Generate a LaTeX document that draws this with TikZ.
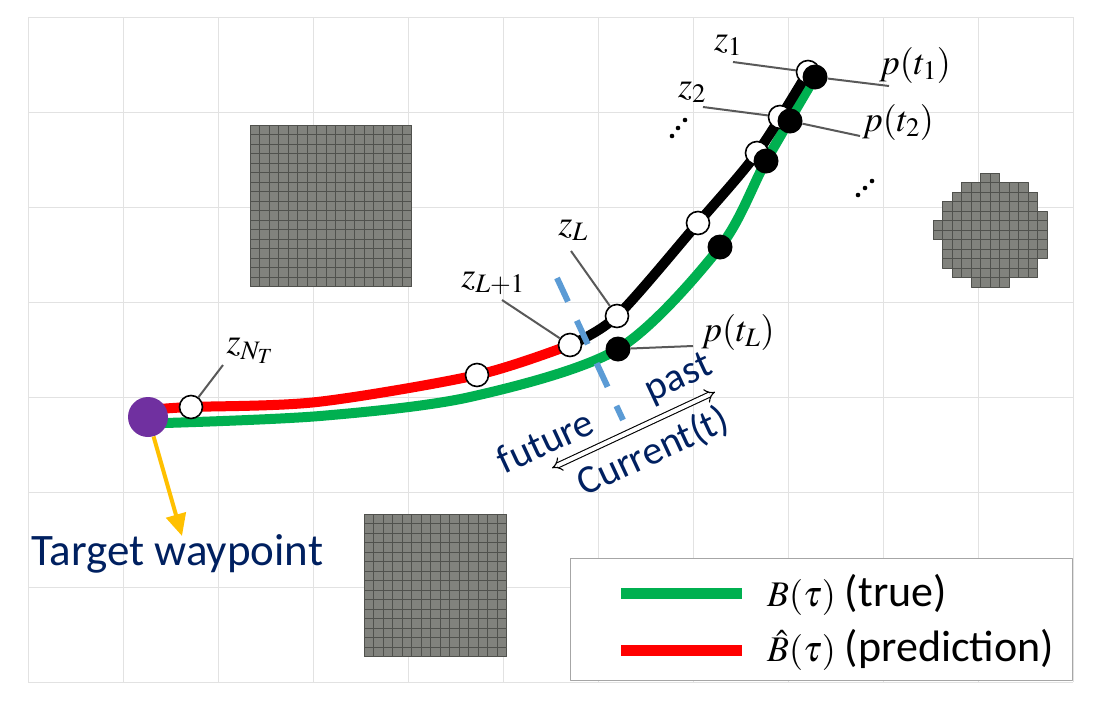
\documentclass[tikz,border=0pt]{standalone}
\usepackage{mathptmx}
\usepackage{fontspec}
\setmainfont{Liberation Serif}
\newfontfamily\calib{Carlito}
\usepackage{tikz}
\usetikzlibrary{arrows.meta}
\definecolor{tgreen}{HTML}{00B050}
\definecolor{tred}{HTML}{FF0000}
\definecolor{tpurple}{HTML}{7030A0}
\definecolor{torange}{HTML}{FFC000}
\definecolor{tnavy}{HTML}{002060}
\definecolor{tblue}{HTML}{5B9BD5}
\definecolor{gridgray}{HTML}{E2E2E2}
\definecolor{obsgray}{HTML}{81827D}
\definecolor{obsline}{HTML}{50514D}
\definecolor{leadgray}{HTML}{595959}

\begin{document}
\begin{tikzpicture}[x=1pt, y=-1pt, line join=round,
    gridline/.style={draw=gridgray, line width=1pt},
    cell/.style={fill=obsgray, draw=obsline, line width=0.5pt},
    wcirc/.style={circle, draw=black, line width=1.6pt, fill=white, minimum size=23pt, inner sep=0pt},
    bdot/.style={circle, fill=black, minimum size=25pt, inner sep=0pt},
    leader/.style={draw=leadgray, line width=2pt},
    mlabel/.style={inner sep=0pt, font=\fontsize{36}{42}\selectfont},
    navytext/.style={text=tnavy, font=\calib\fontsize{40}{48}\selectfont}]
    \useasboundingbox (0,0) rectangle (1094,702); % 画像サイズ

    % 背景のグリッド
    \foreach \i in {0,...,11} \draw[gridline] (28+\i*95,17) -- (28+\i*95,682);
    \foreach \j in {0,...,7} \draw[gridline] (28,17+\j*95) -- (1073,17+\j*95);

    % 障害物
    \foreach \i in {0,...,16} \foreach \j in {0,...,16}
        \filldraw[cell] (250+\i*9.5,125+\j*9.5) rectangle ++(9.5,9.5);
    \foreach \i in {0,...,14} \foreach \j in {0,...,14}
        \filldraw[cell] (364+\i*9.5,514+\j*9.5) rectangle ++(9.5,9.5);
    \foreach \r/\a/\b in {0/5/6, 1/3/9, 2/2/10, 3/1/10, 4/1/11, 5/0/11, 6/0/11, 7/1/11, 8/1/11, 9/1/10, 10/2/10, 11/4/7}
        \foreach \c in {\a,...,\b}
            \filldraw[cell] (933+\c*9.5,173+\r*9.5) rectangle ++(9.5,9.5); % 円形の障害物

    % 軌道
    \draw[tgreen, line width=10pt] plot[smooth] coordinates {(165,423) (320,416) (470,397) (618,349) (720,247) (766,161) (815,77)}; % 真の軌道
    \draw[tred, line width=10pt] plot[smooth] coordinates {(160,409) (191,407) (317,402) (477,375) (570,345)}; % 予測
    \draw[black, line width=10pt] plot[smooth] coordinates {(570,345) (617,316) (698,223) (757,153) (808,72)};
    \draw[tblue, line width=6pt, dash pattern=on 26pt off 21pt] (557,278) -- (623,420); % 現在時刻

    % 点
    \node[circle, fill=tpurple, minimum size=40pt, inner sep=0pt] (tw) at (148,417) {};
    \node[wcirc] (zNT) at (191,407) {};
    \node[wcirc] (zm) at (477,375) {};
    \node[wcirc] (zL1) at (570,345) {};
    \node[wcirc] (zL) at (617,316) {};
    \node[wcirc] (zk) at (698,223) {};
    \node[wcirc] (z3) at (757,153) {};
    \node[wcirc] (z2) at (780,117) {};
    \node[wcirc] (z1) at (808,72) {};
    \node[bdot] (pt1) at (815,77) {};
    \node[bdot] (pt2) at (790,121) {};
    \node[bdot] (pt3) at (766,161) {};
    \node[bdot] (ptk) at (720,247) {};
    \node[bdot] (ptL) at (618,349) {};
    \foreach \p in {(672,136),(678,128),(685,120),(858,195),(865,188),(872,181)} \fill \p circle (2.3); % 省略記号

    % ラベル
    \node[mlabel] (lz1) at (728,45) {$z_1$};
    \node[mlabel] (lpt1) at (915,65) {$p(t_1)$};
    \node[mlabel] (lz2) at (692,92) {$z_2$};
    \node[mlabel] (lpt2) at (898,122) {$p(t_2)$};
    \node[mlabel] (lzL) at (573,230) {$z_L$};
    \node[mlabel] (lzL1) at (493,283) {$z_{L+1}$};
    \node[mlabel] (lptL) at (738,332) {$p(t_L)$};
    \node[mlabel] (lzNT) at (250,351) {$z_{N_T}$};

    % 引き出し線
    \coordinate (ez1) at (733,62);
    \coordinate (ept1) at (889,86);
    \coordinate (ez2) at (703,107);
    \coordinate (ept2) at (860,136);
    \coordinate (ezL) at (571,251);
    \coordinate (ezL1) at (502,300);
    \coordinate (eptL) at (693,346);
    \coordinate (ezNT) at (223,365);
    \draw[leader] (ez1) -- (z1);
    \draw[leader] (pt1) -- (ept1);
    \draw[leader] (ez2) -- (z2);
    \draw[leader] (pt2) -- (ept2);
    \draw[leader] (ezL) -- (zL);
    \draw[leader] (ezL1) -- (zL1);
    \draw[leader] (ptL) -- (eptL);
    \draw[leader] (ezNT) -- (zNT);

    % 時間の矢印
    \coordinate (arrL) at (552,468);
    \coordinate (arrR) at (715,392);
    \draw[line width=1.1pt, double=white, double distance=4pt, {Implies}-{Implies}] (arrL) -- (arrR);
    \node[navytext, rotate=25] (lfut) at (545,441) {future};
    \node[navytext, rotate=25] (lpast) at (679,379) {past};
    \node[navytext, rotate=25] (lcur) at (653,452) {Current(t)};

    % 目標
    \node[navytext, anchor=base west, inner sep=0pt, font=\calib\fontsize{45}{52}\selectfont] (ltarget) at (31,565) {Target waypoint};
    \coordinate (twEnd) at (182,536);
    \draw[torange, line width=4pt, -{Triangle[length=22pt,width=20pt]}] (tw) -- (twEnd);

    % 凡例
    \draw[draw=gray!70, line width=1pt, fill=white] (570,558) rectangle (1072,680);
    \draw[tgreen, line width=11pt] (621,593) -- (742,593);
    \draw[tred, line width=11pt] (621,650) -- (742,650);
    \node[anchor=west, inner sep=0pt] (ltrue) at (767,595) {\fontsize{36}{40}\selectfont$B(\tau)$ {\calib\fontsize{44}{48}\selectfont(true)}};
    \node[anchor=west, inner sep=0pt] (lpred) at (767,650) {\fontsize{36}{40}\selectfont$\hat{B}(\tau)$ {\calib\fontsize{44}{48}\selectfont(prediction)}};
\end{tikzpicture}
\end{document}
